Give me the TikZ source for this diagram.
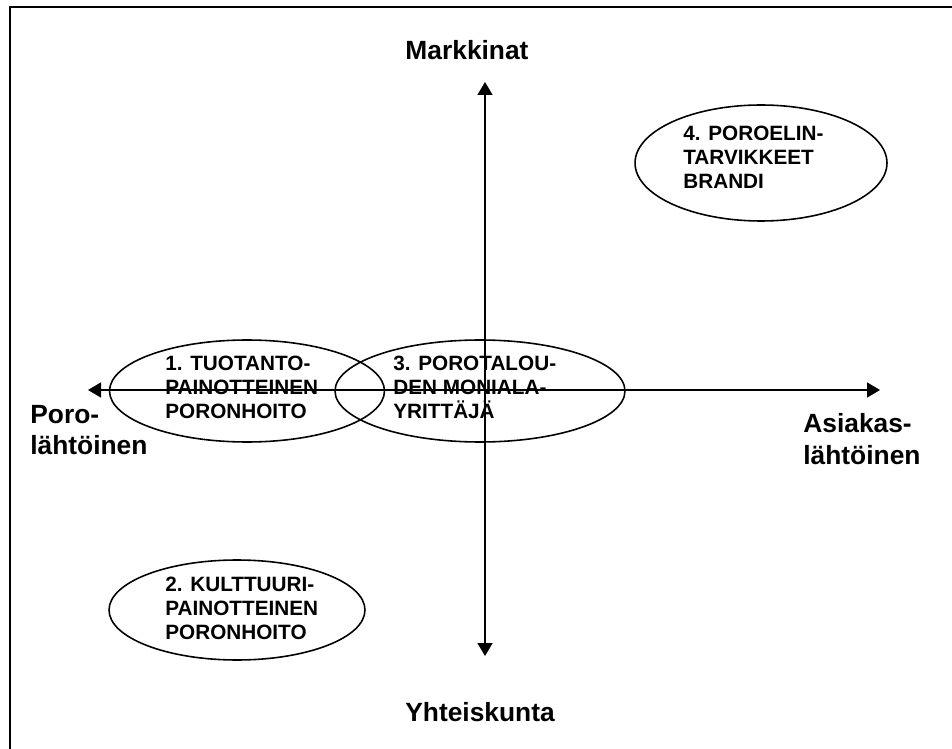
\documentclass[tikz,border=0pt]{standalone}
\usepackage{fontspec}
\setmainfont{Liberation Sans}
\usetikzlibrary{arrows.meta,shapes.geometric,positioning}

\tikzset{
	axisline/.style={line width=1.1pt,{Triangle[length=7.4pt,width=8.5pt]}-{Triangle[length=7.4pt,width=8.5pt]}},
	area/.style={draw,ellipse,line width=0.9pt,inner sep=0pt},
	areatext/.style={anchor=west,align=left,inner sep=0pt,font=\fontsize{11.8}{13.7}\selectfont\bfseries},
	axislabel/.style={align=left,inner sep=0pt,font=\fontsize{15}{18}\selectfont\bfseries}
}

\begin{document}
\begin{tikzpicture}[x=0.02cm,y=-0.02cm]
		\useasboundingbox (0,0) rectangle (952,749);
		\clip (0,0) rectangle (952,749);
		\draw[line width=1.1pt] (10,7) rectangle (990,790);
		
		% axes
		\coordinate (west) at (88,390);
		\coordinate (east) at (880,390);
		\coordinate (north) at (485,82);
		\coordinate (south) at (485,656);
		
		\node[axislabel] (markkinat) at (467,50) {Markkinat};
		\node[axislabel] (yhteiskunta) at (480,712) {Yhteiskunta};
		\node[axislabel,anchor=west] (porolahtoinen) at (30,430) {Poro-\\lähtöinen};
		\node[axislabel,anchor=west] (asiakaslahtoinen) at (803,439) {Asiakas-\\lähtöinen};
		
		% areas
		\node[area,minimum width=5.5cm,minimum height=2.04cm] (tuotanto) at (247,391) {};
		\node[area,minimum width=5.8cm,minimum height=2.04cm] (moniala) at (480,391) {};
		\node[area,minimum width=5.04cm,minimum height=2.32cm] (brandi) at (761,163) {};
		\node[area,minimum width=5.12cm,minimum height=2.0cm] (kulttuuri) at (237,610) {};
		
		\node[areatext] (tuotantotxt) at (165,387) {1. TUOTANTO-\\PAINOTTEINEN\\PORONHOITO};
		\node[areatext] (monialatxt) at (393,387) {3. POROTALOU-\\DEN MONIALA-\\YRITTÄJÄ};
		\node[areatext] (brandittxt) at (683,157) {4. POROELIN-\\TARVIKKEET\\BRANDI};
		\node[areatext] (kulttuuritxt) at (165,608) {2. KULTTUURI-\\PAINOTTEINEN\\PORONHOITO};
		
		\draw[axisline] (west) -- (east);
		\draw[axisline] (south) -- (north);
		
\end{tikzpicture}
\end{document}
